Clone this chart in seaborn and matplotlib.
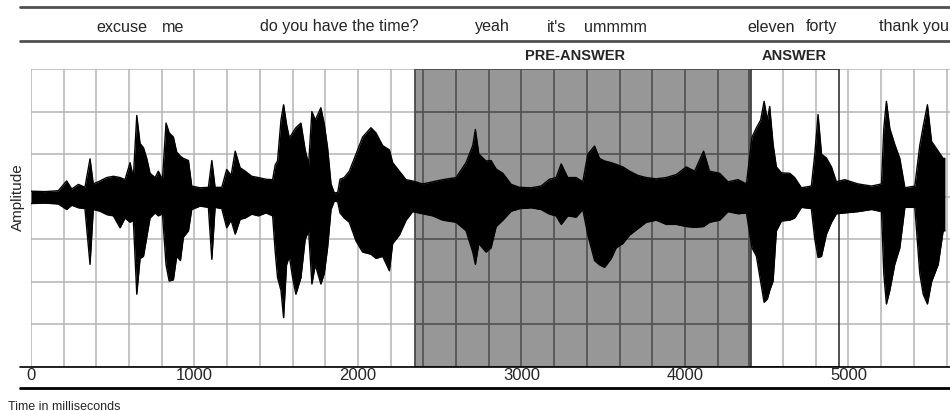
import numpy as np
import pandas as pd
import matplotlib.pyplot as plt
from matplotlib.lines import Line2D
from matplotlib.patches import Rectangle
import seaborn as sns

sns.set_theme(style='white')
plt.rcParams['font.family'] = ['Liberation Sans', 'DejaVu Sans']
narrow = ['Liberation Sans Narrow', 'Liberation Sans', 'DejaVu Sans']

# waveform envelope: time (ms), top and bottom amplitude
time_ms = [0, 86, 167, 218, 249, 290, 330, 361, 381, 422, 463, 504, 545, 575, 606, 626,
           647, 667, 688, 708, 728, 759, 779, 804, 826, 845, 871, 891, 914, 932, 963, 983,
           1034, 1085, 1106, 1126, 1167, 1197, 1224, 1249, 1279, 1310, 1350, 1391,
           1437, 1478, 1494, 1508, 1529, 1545, 1563, 1580, 1600, 1620, 1651, 1677, 1698,
           1718, 1739, 1773, 1794, 1814, 1835, 1855, 1876, 1890, 1916, 1947, 1988, 2028,
           2079, 2110, 2151, 2192, 2212, 2253, 2294, 2334, 2396, 2457, 2518, 2600, 2661,
           2702, 2718, 2739, 2783,
           2814, 2845, 2886, 2937, 2988, 3059, 3120, 3171, 3212, 3243, 3283, 3334, 3375,
           3406, 3447, 3477, 3508, 3549, 3579, 3620, 3661, 3712, 3763, 3824, 3885, 3947,
           4008, 4059, 4114, 4150, 4212,
           4263, 4325, 4376, 4410, 4437, 4463, 4484, 4504, 4518, 4539, 4559, 4590, 4641,
           4671, 4712, 4773, 4794, 4814, 4835, 4865, 4896, 4926, 4977, 5059, 5141, 5202,
           5216, 5232, 5253, 5283, 5314, 5345, 5406, 5436, 5457, 5483, 5508, 5549, 5579, 5590]
upper = [0.13, 0.12, 0.14, 0.37, 0.18, 0.29, 0.22, 0.89, 0.30, 0.37, 0.45, 0.48, 0.45, 0.40, 0.80, 0.45,
         1.91, 1.25, 1.15, 0.90, 0.55, 0.45, 0.60, 0.40, 1.73, 1.50, 1.40, 1.05, 0.95, 0.90, 0.85, 0.25,
         0.21, 0.22, 0.85, 0.22, 0.22, 0.64, 0.50, 1.07, 0.68, 0.60, 0.48, 0.45,
         0.41, 0.40, 0.75, 0.84, 1.80, 2.16, 1.70, 1.38, 1.50, 1.62, 1.73, 1.10, 0.76,
         2.00, 1.80, 2.09, 1.70, 1.15, 0.30, 0.09, 0.10, 0.41, 0.45, 0.60, 1.00, 1.40,
         1.62, 1.50, 1.20, 1.10, 0.80, 0.60, 0.40, 0.37, 0.30, 0.35, 0.40, 0.45, 0.80,
         1.20, 1.58, 1.00, 0.84,
         0.85, 0.65, 0.55, 0.29, 0.22, 0.21, 0.25, 0.41, 0.45, 0.77, 0.45, 0.45, 0.35,
         1.00, 1.19, 0.90, 0.84, 0.80, 0.76, 0.70, 0.60, 0.50, 0.45, 0.42, 0.45, 0.52,
         0.70, 0.60, 1.07, 0.60, 0.55,
         0.35, 0.40, 0.30, 1.40, 1.62, 1.80, 2.24, 1.80, 2.12, 1.23, 0.70, 0.56, 0.55,
         0.45, 0.21, 0.25, 1.00, 1.93, 1.00, 0.91, 0.70, 0.35, 0.40, 0.30, 0.25, 0.30,
         1.60, 2.24, 1.60, 1.23, 0.90, 0.21, 0.25, 1.20, 1.65, 2.16, 1.30, 1.07, 0.90, 0.90]
lower = [-0.16, -0.15, -0.17, -0.30, -0.20, -0.26, -0.28, -1.59, -0.30, -0.34, -0.42, -0.45, -0.73, -0.50, -0.60, -0.55,
         -2.29, -1.45, -1.40, -0.95, -0.50, -0.38, -0.45, -0.40, -1.60, -1.98, -1.95, -1.40, -1.50, -0.95, -0.80, -0.30,
         -0.22, -0.25, -1.47, -0.25, -0.28, -0.73, -0.55, -0.88, -0.53, -0.50, -0.41, -0.45,
         -0.38, -0.45, -1.30, -1.90, -2.20, -2.84, -1.60, -1.40, -1.90, -2.29, -1.90, -1.00, -0.80,
         -2.05, -1.60, -2.05, -1.80, -1.20, -0.30, -0.10, -0.12, -0.38, -0.50, -0.60, -1.04, -1.30,
         -1.35, -1.45, -1.40, -1.74, -1.10, -0.90, -0.55, -0.35, -0.40, -0.45, -0.55, -0.60, -0.80,
         -1.30, -1.59, -1.10, -1.30,
         -1.20, -0.70, -0.55, -0.34, -0.28, -0.26, -0.30, -0.41, -0.45, -0.65, -0.45, -0.48, -0.30,
         -0.90, -1.50, -1.60, -1.66, -1.45, -1.20, -1.10, -0.90, -0.75, -0.60, -0.55, -0.65, -0.65,
         -0.70, -0.72, -0.70, -0.60, -0.55,
         -0.35, -0.40, -0.38, -1.20, -1.40, -2.00, -2.48, -2.40, -2.20, -1.98, -0.80, -0.57, -0.55,
         -0.50, -0.25, -0.28, -1.00, -1.43, -1.40, -0.88, -0.60, -0.40, -0.38, -0.35, -0.30, -0.35,
         -1.80, -2.52, -2.20, -1.59, -1.20, -0.25, -0.25, -1.80, -2.29, -2.52, -2.00, -1.59, -0.80, -0.80]

words = ['excuse', 'me', 'do you have the time?', 'yeah', "it's", 'ummmm',
         'eleven', 'forty', 'thank you']
word_ms = [557, 869, 1884, 2820, 3217, 3578, 4526, 4838, 5401]

pre_answer = (2350, 4390)
answer = (4405, 4945)
tick_ms = [0, 1000, 2000, 3000, 4000, 5000]

wave = pd.DataFrame({'time': time_ms, 'upper': upper, 'lower': lower})

W, H = 950, 411
fig = plt.figure(figsize=(W / 100, H / 100), dpi=100)
ax = fig.add_axes([31 / W, 1 - 367 / H, 1 - 31 / W, (367 - 69) / H])
ax.set_xlim(0, 5621)
ax.set_ylim(-4, 3)

# light grid
ax.set_xticks(tick_ms)
ax.set_xticks(np.arange(0, 5601, 200), minor=True)
ax.set_yticks(np.arange(-4, 4, 1))
ax.grid(True, which='both', color='#b4b4b4', lw=1.1)
ax.set_axisbelow(True)
ax.tick_params(axis='both', which='both', length=0)
ax.set_yticklabels([])
ax.set_xticklabels([str(t) for t in tick_ms], fontsize=12, family=['Liberation Sans', 'DejaVu Sans'])
ax.tick_params(axis='x', pad=1)
for s in ['top', 'right', 'left', 'bottom']:
    ax.spines[s].set_visible(False)

# pre-answer shaded region with its darker grid
ax.add_patch(Rectangle((pre_answer[0], -4), pre_answer[1] - pre_answer[0], 7,
                       facecolor='#979797', edgecolor='#4a4a4a', lw=1.3, zorder=1))
inner_x = [t for t in range(0, 5601, 200) if pre_answer[0] < t < pre_answer[1]]
ax.vlines(inner_x, -4, 3, color='#555555', lw=1.3, zorder=1.2)
ax.hlines(np.arange(-3, 3, 1), pre_answer[0], pre_answer[1], color='#555555', lw=1.3, zorder=1.2)

# answer box
ax.add_patch(Rectangle((answer[0], -4), answer[1] - answer[0], 7,
                       facecolor='none', edgecolor='#222222', lw=1.1, zorder=1.5))

# waveform
ax.fill_between(wave['time'], wave['lower'], wave['upper'], color='black', lw=0, zorder=2)
sns.lineplot(data=wave, x='time', y='upper', color='black', lw=1.0, ax=ax, zorder=2)
sns.lineplot(data=wave, x='time', y='lower', color='black', lw=1.0, ax=ax, zorder=2)
ax.set_xlabel('')
ax.set_ylabel('')

# section labels
ax.text(3327, 1.02, 'PRE-ANSWER', transform=ax.get_xaxis_transform(), ha='center',
        va='bottom', fontsize=10.5, fontweight='heavy', family=narrow)
ax.text(4667, 1.02, 'ANSWER', transform=ax.get_xaxis_transform(), ha='center',
        va='bottom', fontsize=10.5, fontweight='heavy', family=narrow)

# transcript row
trans = ax.get_xaxis_transform()
for w, t in zip(words, word_ms):
    ax.text(t, (H - 31.5 - (H - 367)) / (367 - 69), w, transform=trans, ha='center',
            va='baseline', fontsize=11.6, family=narrow)

# horizontal rules
def rule(y, color, lw, x0=20):
    fig.add_artist(Line2D([x0 / W, 1], [1 - y / H, 1 - y / H], color=color, lw=lw,
                          transform=fig.transFigure))

rule(7.5, '#505050', 2)
rule(41, '#505050', 2)
rule(367, 'black', 1.2)
rule(387.5, 'black', 2)

fig.text(18 / W, 1 - 197 / H, 'Amplitude', rotation=90, ha='center', va='center',
         fontsize=11, family=narrow)
fig.text(8 / W, 1 - 409.5 / H, 'Time in milliseconds', ha='left', va='baseline',
         fontsize=9, family=narrow)

fig.savefig('out.png', dpi=100)
